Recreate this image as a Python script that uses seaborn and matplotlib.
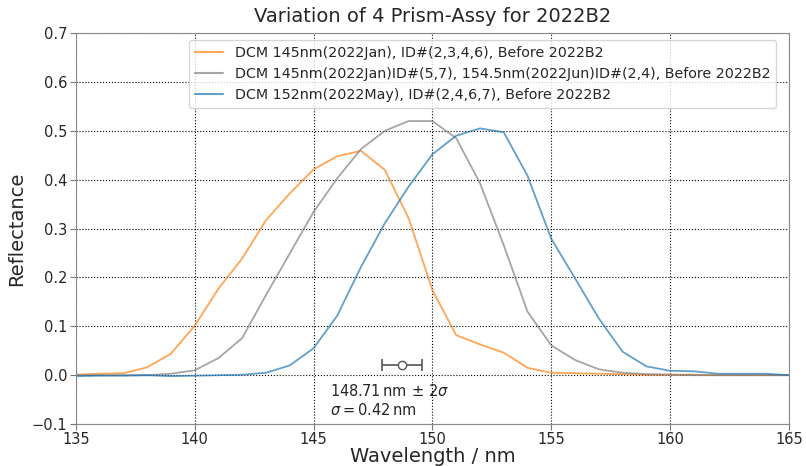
import numpy as np
import pandas as pd
import matplotlib
matplotlib.use("Agg")
import matplotlib.pyplot as plt
import seaborn as sns

wavelength = list(range(135, 166))

orange_label = "DCM 145nm(2022Jan), ID#(2,3,4,6), Before 2022B2"
gray_label = "DCM 145nm(2022Jan)ID#(5,7), 154.5nm(2022Jun)ID#(2,4), Before 2022B2"
blue_label = "DCM 152nm(2022May), ID#(2,4,6,7), Before 2022B2"

orange_vals = [0.001, 0.003, 0.004, 0.016, 0.044, 0.101, 0.177, 0.239, 0.317, 0.372,
               0.421, 0.448, 0.459, 0.420, 0.321, 0.174, 0.082, 0.063, 0.046, 0.015,
               0.005, 0.004, 0.003, 0.002, 0.001, 0.001, 0.001, 0.0, 0.0, 0.0, 0.0]
gray_vals = [0.0, 0.0, 0.0, 0.0, 0.003, 0.010, 0.035, 0.076, 0.164, 0.249,
             0.334, 0.403, 0.463, 0.500, 0.520, 0.520, 0.485, 0.393, 0.266, 0.130,
             0.061, 0.031, 0.012, 0.005, 0.002, 0.001, 0.0, 0.0, 0.0, 0.0, 0.0]
blue_vals = [-0.002, -0.001, -0.001, 0.0, -0.002, -0.001, 0.0, 0.001, 0.005, 0.020,
             0.055, 0.122, 0.222, 0.311, 0.386, 0.452, 0.490, 0.505, 0.497, 0.408,
             0.279, 0.198, 0.116, 0.048, 0.018, 0.009, 0.008, 0.003, 0.003, 0.003, 0.0]

mean_wl = 148.71
sigma = 0.42
marker_y = 0.02

df = pd.concat([
    pd.DataFrame({"Wavelength": wavelength, "Reflectance": orange_vals, "series": orange_label}),
    pd.DataFrame({"Wavelength": wavelength, "Reflectance": gray_vals, "series": gray_label}),
    pd.DataFrame({"Wavelength": wavelength, "Reflectance": blue_vals, "series": blue_label}),
])

palette = {orange_label: "#ff7f0e", gray_label: "#7f7f7f", blue_label: "#1f77b4"}

sns.set_style("white")
plt.rcParams['font.family'] = ['DejaVu Sans']

fig = plt.figure(figsize=(8.06, 4.66), dpi=100)
ax = fig.add_axes([0.094, 0.09, 0.885, 0.839])

sns.lineplot(data=df, x="Wavelength", y="Reflectance", hue="series",
             palette=palette, hue_order=[orange_label, gray_label, blue_label],
             alpha=0.7, linewidth=1.3, ax=ax)

ax.errorbar([mean_wl], [marker_y], xerr=[2 * sigma], fmt='o', color='#555555',
            mfc='white', mec='#555555', ms=6, capsize=4, elinewidth=1.2, capthick=1.2)
ax.text(145.7, -0.033, r"$148.71\,\mathrm{nm}\,\pm\,2\sigma$", fontsize=10.5,
        va='center', ha='left')
ax.text(145.7, -0.071, r"$\sigma = 0.42\,\mathrm{nm}$", fontsize=10.5,
        va='center', ha='left')

ax.set_xlim(135, 165)
ax.set_ylim(-0.1, 0.7)
ax.set_xticks([135, 140, 145, 150, 155, 160, 165])
ax.set_yticks([-0.1, 0.0, 0.1, 0.2, 0.3, 0.4, 0.5, 0.6, 0.7])
ax.grid(True, color='black', linestyle=':', linewidth=0.8)
ax.tick_params(axis='both', labelsize=10.5, direction='out', length=4, color='#777777',
               left=True, bottom=True, pad=2)
for s in ax.spines.values():
    s.set_color('#888888')

ax.set_xlabel("Wavelength / nm", fontsize=14, labelpad=0)
ax.set_ylabel("Reflectance", fontsize=14, labelpad=4)
ax.set_title("Variation of 4 Prism-Assy for 2022B2", fontsize=14, pad=8)

leg = ax.legend(loc='upper right', fontsize=10.3, framealpha=0.8, labelspacing=0.5,
                bbox_to_anchor=(0.992, 1.0))
for line in leg.get_lines():
    line.set_linewidth(1.5)

fig.savefig("out.png", dpi=100)
